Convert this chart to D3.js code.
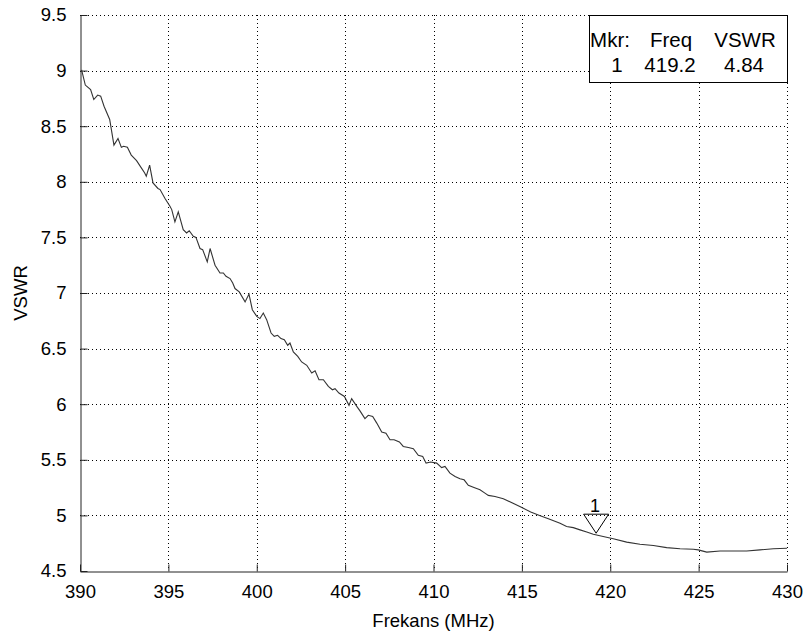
<!DOCTYPE html>
<html>
<head>
<meta charset="utf-8">
<script src="https://cdn.jsdelivr.net/npm/d3@7"></script>
<style>
  body { margin: 0; background: #fff; }
  svg text { font-family: "Liberation Sans", Arial, sans-serif; fill: #000; }
</style>
</head>
<body>
<svg id="chart" width="812" height="638"></svg>
<script>
// Swept VSWR trace
var freqs = [390.04, 390.1, 390.3, 390.6, 390.78, 391.0, 391.17, 391.36, 391.68, 391.92,
  392.15, 392.34, 392.47, 392.68, 392.9, 393.2, 393.45, 393.66, 393.75, 393.94, 394.13,
  394.41, 394.53, 394.81, 395.09, 395.19, 395.37, 395.56, 395.84, 396.03, 396.18, 396.41,
  396.56, 396.79, 396.94, 397.2, 397.36, 397.64, 397.92, 398.11, 398.26, 398.49, 398.64,
  398.77, 399.01, 399.34, 399.56, 399.75, 400.0, 400.18, 400.37, 400.56, 400.81, 400.99,
  401.18, 401.37, 401.56, 401.75, 401.88, 402.07, 402.32, 402.54, 402.83, 403.11, 403.3,
  403.52, 403.77, 404.05, 404.28, 404.43, 404.65, 404.96, 405.22, 405.37, 405.66, 405.84,
  406.12, 406.31, 406.56, 406.79, 407.07, 407.31, 407.54, 407.77, 408.07, 408.29, 408.58,
  408.86, 409.14, 409.39, 409.58, 409.84, 410.18, 410.46, 410.65, 410.93, 411.22, 411.5,
  411.73, 411.97, 412.29, 412.63, 412.91, 413.1, 413.48, 413.95, 414.5, 415.0, 415.5,
  416.0, 416.5, 417.16, 417.53, 417.91, 418.29, 418.67, 419.04, 419.6, 420.17, 420.93,
  421.68, 422.44, 423.19, 423.95, 424.7, 424.98, 425.46, 426.21, 426.96, 427.72, 428.47,
  429.23, 430.0];
var vswr = [8.99, 9.0, 8.87, 8.83, 8.74, 8.78, 8.77, 8.68, 8.56, 8.33,
  8.39, 8.31, 8.32, 8.31, 8.24, 8.19, 8.13, 8.08, 8.05, 8.15, 7.99,
  7.94, 7.93, 7.85, 7.78, 7.75, 7.64, 7.73, 7.57, 7.54, 7.56, 7.51,
  7.5, 7.4, 7.39, 7.28, 7.4, 7.25, 7.18, 7.18, 7.15, 7.13, 7.09,
  7.04, 7.01, 6.92, 6.99, 6.85, 6.79, 6.77, 6.82, 6.76, 6.64, 6.61,
  6.62, 6.59, 6.58, 6.53, 6.55, 6.47, 6.43, 6.38, 6.35, 6.28, 6.3,
  6.22, 6.22, 6.16, 6.13, 6.14, 6.1, 6.07, 5.99, 6.05, 5.98, 5.94,
  5.87, 5.9, 5.89, 5.83, 5.75, 5.74, 5.68, 5.68, 5.66, 5.62, 5.61,
  5.6, 5.54, 5.53, 5.47, 5.48, 5.47, 5.43, 5.44, 5.38, 5.35, 5.33,
  5.32, 5.27, 5.25, 5.23, 5.2, 5.18, 5.17, 5.15, 5.11, 5.07, 5.03,
  5.0, 4.97, 4.93, 4.9, 4.89, 4.87, 4.85, 4.83, 4.81, 4.79, 4.76,
  4.74, 4.73, 4.71, 4.7, 4.695, 4.69, 4.67, 4.68, 4.68, 4.68, 4.69,
  4.7, 4.705];

var xTicks = [390, 395, 400, 405, 410, 415, 420, 425, 430];
var yTicks = [4.5, 5, 5.5, 6, 6.5, 7, 7.5, 8, 8.5, 9, 9.5];

var markerId = 1, markerFreq = 419.2, markerVswr = 4.84;
var legendHead = ["Mkr:", "Freq", "VSWR"];
var legendRow = ["1", "419.2", "4.84"];

var plotLeft = 80, plotRight = 787, plotTop = 15, plotBottom = 571;
var svg = d3.select("#chart");

var x = d3.scaleLinear().domain([390, 430]).range([plotLeft, plotRight]);
var y = d3.scaleLinear().domain([4.5, 9.5]).range([plotBottom, plotTop]);

// dotted grid
var grid = svg.append("g").attr("stroke", "#000").attr("stroke-dasharray", "1,3").attr("stroke-width", 1);
xTicks.slice(1).forEach(function(t) {
  grid.append("line").attr("x1", Math.round(x(t)) + 0.5).attr("x2", Math.round(x(t)) + 0.5)
    .attr("y1", plotTop).attr("y2", plotBottom);
});
yTicks.slice(1).forEach(function(t) {
  grid.append("line").attr("y1", Math.round(y(t)) + 0.5).attr("y2", Math.round(y(t)) + 0.5)
    .attr("x1", plotLeft).attr("x2", plotRight);
});

// axes (left & bottom only, ticks pointing inward)
svg.append("g")
  .attr("transform", "translate(" + (plotLeft + 0.5) + ",0)")
  .call(d3.axisLeft(y).tickValues(yTicks).tickFormat(d3.format("")).tickSizeInner(-7).tickSizeOuter(0).tickPadding(14))
  .call(function(g) {
    g.select(".domain").attr("stroke", "#222");
    g.selectAll(".tick line").attr("stroke", "#222");
    g.selectAll("text").attr("font-size", "18.5px").attr("font-family", "Liberation Sans, Arial, sans-serif").attr("fill", "#000");
  });

svg.append("g")
  .attr("transform", "translate(0," + (plotBottom + 0.5) + ")")
  .call(d3.axisBottom(x).tickValues(xTicks).tickFormat(d3.format("")).tickSizeInner(-7).tickSizeOuter(0).tickPadding(13))
  .call(function(g) {
    g.select(".domain").attr("stroke", "#222");
    g.selectAll(".tick line").attr("stroke", "#222");
    g.selectAll("text").attr("font-size", "18.5px").attr("font-family", "Liberation Sans, Arial, sans-serif").attr("fill", "#000");
  });

// trace
svg.append("path")
  .datum(d3.zip(freqs, vswr))
  .attr("fill", "none")
  .attr("stroke", "#333")
  .attr("stroke-width", 1.1)
  .attr("d", d3.line().x(function(d) { return x(d[0]); }).y(function(d) { return y(d[1]); }));

// marker triangle
var mx = x(markerFreq), my = y(markerVswr);
svg.append("path")
  .attr("d", "M" + mx + "," + my + "L" + (mx - 12.5) + "," + (my - 19) + "L" + (mx + 12.5) + "," + (my - 19) + "Z")
  .attr("fill", "none").attr("stroke", "#000").attr("stroke-width", 1);
svg.append("text").attr("x", mx - 1).attr("y", my - 21)
  .attr("text-anchor", "middle").attr("font-size", "18px").text(markerId);

// marker readout box
svg.append("rect").attr("x", 589.5).attr("y", 15.5).attr("width", 198).attr("height", 67)
  .attr("fill", "#fff").attr("stroke", "#000");
var headX = [610, 671, 745], rowX = [617, 670, 744];
legendHead.forEach(function(t, i) {
  svg.append("text").attr("x", headX[i]).attr("y", 46.5).attr("text-anchor", "middle")
    .attr("font-size", "20.5px").text(t);
});
legendRow.forEach(function(t, i) {
  svg.append("text").attr("x", rowX[i]).attr("y", 71.5).attr("text-anchor", "middle")
    .attr("font-size", "20.5px").text(t);
});

// axis titles
svg.append("text").attr("x", (plotLeft + plotRight) / 2).attr("y", 627).attr("text-anchor", "middle")
  .attr("font-size", "18.5px").text("Frekans (MHz)");
svg.append("text").attr("transform", "translate(27," + ((plotTop + plotBottom) / 2) + ") rotate(-90)")
  .attr("text-anchor", "middle").attr("font-size", "18.5px").text("VSWR");
</script>
</body>
</html>
